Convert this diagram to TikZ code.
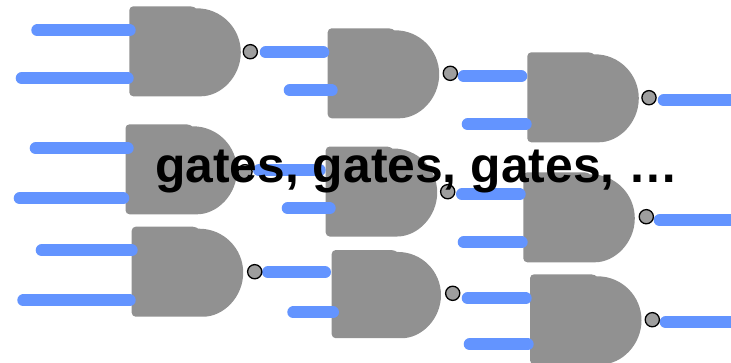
\documentclass[tikz,border=0pt]{standalone}
\usepackage{fontspec}
\setmainfont{Liberation Sans}
\usepackage{xcolor}
\definecolor{gateGrey}{HTML}{919191}
\definecolor{bubbleGrey}{HTML}{9E9E9E}
\definecolor{wireBlue}{HTML}{6394FF}
\tikzset{
  gatebody/.style={fill=gateGrey},
  wire/.style={draw=wireBlue,line width=12pt,line cap=round},
  bubble/.style={circle,draw=black,fill=bubbleGrey,line width=1.3pt,inner sep=0pt,minimum size=14.2pt},
  banner/.style={anchor=base west,inner sep=0pt,font=\fontsize{49.8}{50}\selectfont\bfseries},
  nandgate/.pic={
    \fill[gatebody,rounded corners=4pt] (67,2) -- (65,0) -- (0,0) -- (0,90) -- (67.5,90)
      [sharp corners] arc[start angle=90,end angle=-90,radius=44] -- cycle;
  }
}
\begin{document}
\begin{tikzpicture}[x=1pt,y=-1pt]
  \clip (0,0) rectangle (731,362);
  % gates, left to right
  \pic (g1) at (129.3,6.3) {nandgate};
  \pic (g2) at (327.7,28.3) {nandgate};
  \pic (g3) at (527.3,52.3) {nandgate};
  \pic (g4) at (125.5,124.3) {nandgate};
  \pic (g5) at (325.7,146.5) {nandgate};
  \pic (g6) at (523.3,172.3) {nandgate};
  \pic (g7) at (131.7,226.7) {nandgate};
  \pic[scale=0.98] (g8) at (331.7,250) {nandgate};
  \pic (g9) at (530,274.3) {nandgate};
  % wires
  \foreach \wname/\wx/\wend/\wy in {a/37.3/129.7/30.3,b/21.7/127.7/78.3,c/265.7/323.3/52.3,d/289.7/331.7/90.3,
      e/463.7/521.3/76.3,f/467.7/525.7/124.3,g/35.7/127.7/148.3,h/19.7/123.3/198.3,
      i/259/319.7/170.3,j/287.7/329.7/208.3,k/462/519.7/194.3,l/463.7/521.7/242.3,
      m/41.7/131.7/250.3,n/23.3/129.7/300.3,o/268/325/272.3,p/293.3/333/312.3,
      q/467.7/525.7/298.3,r/469.7/527.7/344.3,s/663.7/745/100.3,t/659.7/745/220.3,u/665.7/745/322.3}
    \draw[wire] (\wx,\wy) coordinate (w\wname) -- (\wend,\wy) coordinate (x\wname);
  % inverter bubbles
  \foreach \bname/\bx/\by in {1/250.3/51.7,2/450.3/73.3,3/649/97.7,4/245/171.7,5/447.7/191.7,
      6/646.3/216.7,7/254.7/271.7,8/452.7/293.3,9/652.3/319.7}
    \node[bubble] (b\bname) at (\bx,\by) {};
  \node[banner] (title) at (155,182.5) {gates, gates, gates, …};
\end{tikzpicture}
\end{document}
